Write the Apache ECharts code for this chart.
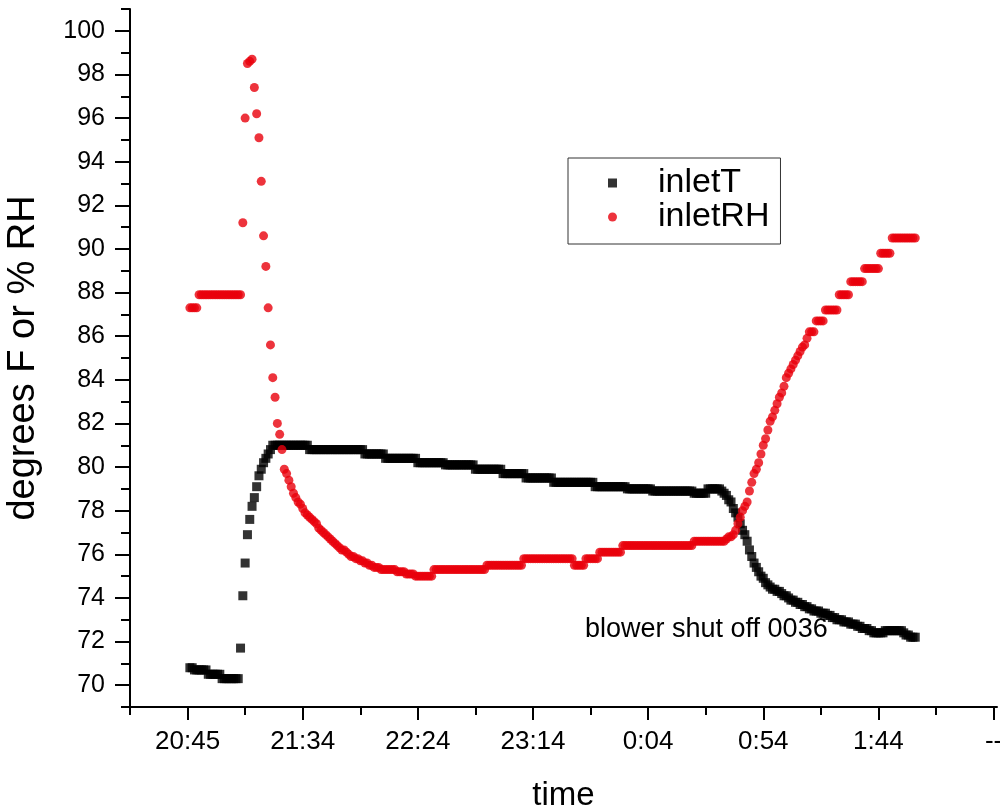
<!DOCTYPE html>
<html>
<head>
<meta charset="utf-8">
<title>inlet temperature and humidity</title>
<script src="https://cdn.jsdelivr.net/npm/echarts@6/dist/echarts.min.js"></script>
<style>
  html, body { margin: 0; padding: 0; background: #ffffff; }
  #chart { width: 1000px; height: 808px; }
</style>
</head>
<body>
<div id="chart"></div>
<script>
// Time axis: minutes after the 20:45 tick; logger writes one sample per minute.
const axisOrigin = '20:45';
const logStart = '20:46';
const logStepMin = 1;

const tickMinutes = [0, 50, 100, 150, 200, 250, 300, 350];
const tickLabels = ['20:45', '21:34', '22:24', '23:14', '0:04', '0:54', '1:44', '--'];
const minorTickMinutes = [-25, 25, 75, 125, 175, 225, 275, 325];

const yMajorTicks = [70, 72, 74, 76, 78, 80, 82, 84, 86, 88, 90, 92, 94, 96, 98, 100];
const yMinorTicks = [69, 71, 73, 75, 77, 79, 81, 83, 85, 87, 89, 91, 93, 95, 97, 99, 101];

const annotationText = 'blower shut off 0036';

// inlet temperature, degrees F
const inletT = [
  70.8, 70.8, 70.7, 70.7, 70.7, 70.7, 70.7, 70.7, 70.5, 70.5,
  70.5, 70.5, 70.5, 70.5, 70.3, 70.3, 70.3, 70.3, 70.3, 70.3,
  70.3, 70.3, 71.7, 74.1, 75.6, 76.9, 77.6, 78.2, 78.6, 79.1,
  79.6, 79.9, 80.2, 80.4, 80.6, 80.8, 81.0, 81.0, 81.0, 81.0,
  81.0, 81.0, 81.0, 81.0, 81.0, 81.0, 81.0, 81.0, 81.0, 81.0,
  81.0, 81.0, 80.8, 80.8, 80.8, 80.8, 80.8, 80.8, 80.8, 80.8,
  80.8, 80.8, 80.8, 80.8, 80.8, 80.8, 80.8, 80.8, 80.8, 80.8,
  80.8, 80.8, 80.8, 80.8, 80.8, 80.8, 80.6, 80.6, 80.6, 80.6,
  80.6, 80.6, 80.6, 80.6, 80.6, 80.4, 80.4, 80.4, 80.4, 80.4,
  80.4, 80.4, 80.4, 80.4, 80.4, 80.4, 80.4, 80.4, 80.4, 80.2,
  80.2, 80.2, 80.2, 80.2, 80.2, 80.2, 80.2, 80.2, 80.2, 80.2,
  80.2, 80.1, 80.1, 80.1, 80.1, 80.1, 80.1, 80.1, 80.1, 80.1,
  80.1, 80.1, 80.1, 80.1, 79.9, 79.9, 79.9, 79.9, 79.9, 79.9,
  79.9, 79.9, 79.9, 79.9, 79.9, 79.9, 79.7, 79.7, 79.7, 79.7,
  79.7, 79.7, 79.7, 79.7, 79.7, 79.7, 79.5, 79.5, 79.5, 79.5,
  79.5, 79.5, 79.5, 79.5, 79.5, 79.5, 79.5, 79.5, 79.3, 79.3,
  79.3, 79.3, 79.3, 79.3, 79.3, 79.3, 79.3, 79.3, 79.3, 79.3,
  79.3, 79.3, 79.3, 79.3, 79.3, 79.3, 79.1, 79.1, 79.1, 79.1,
  79.1, 79.1, 79.1, 79.1, 79.1, 79.1, 79.1, 79.1, 79.1, 79.1,
  79.0, 79.0, 79.0, 79.0, 79.0, 79.0, 79.0, 79.0, 79.0, 79.0,
  79.0, 78.9, 78.9, 78.9, 78.9, 78.9, 78.9, 78.9, 78.9, 78.9,
  78.9, 78.9, 78.9, 78.9, 78.9, 78.9, 78.9, 78.9, 78.9, 78.8,
  78.8, 78.8, 78.8, 78.8, 78.8, 79.0, 79.0, 79.0, 79.0, 79.0,
  79.0, 78.9, 78.8, 78.7, 78.5, 78.4, 78.1, 77.9, 77.7, 77.4,
  77.1, 76.9, 76.6, 76.2, 75.9, 75.6, 75.4, 75.2, 75.0, 74.9,
  74.7, 74.6, 74.5, 74.4, 74.4, 74.3, 74.3, 74.2, 74.1, 74.1,
  74.0, 73.9, 73.9, 73.8, 73.8, 73.7, 73.7, 73.6, 73.6, 73.5,
  73.5, 73.4, 73.4, 73.4, 73.3, 73.3, 73.3, 73.2, 73.2, 73.1,
  73.1, 73.0, 73.0, 73.0, 72.9, 72.9, 72.9, 72.8, 72.8, 72.8,
  72.7, 72.7, 72.6, 72.6, 72.6, 72.5, 72.5, 72.4, 72.4, 72.4,
  72.4, 72.4, 72.5, 72.5, 72.5, 72.5, 72.5, 72.5, 72.5, 72.5,
  72.4, 72.3, 72.3, 72.2, 72.2, 72.2
];

// inlet relative humidity, %
const inletRH = [
  87.3, 87.3, 87.3, 87.3, 87.9, 87.9, 87.9, 87.9, 87.9, 87.9,
  87.9, 87.9, 87.9, 87.9, 87.9, 87.9, 87.9, 87.9, 87.9, 87.9,
  87.9, 87.9, 87.9, 91.2, 96.0, 98.5, 98.6, 98.7, 97.4, 96.2,
  95.1, 93.1, 90.6, 89.2, 87.3, 85.6, 84.1, 83.2, 82.0, 81.5,
  80.8, 79.9, 79.7, 79.4, 79.1, 78.8, 78.6, 78.4, 78.3, 78.1,
  77.9, 77.8, 77.7, 77.6, 77.5, 77.4, 77.2, 77.1, 77.0, 76.9,
  76.8, 76.7, 76.6, 76.5, 76.4, 76.3, 76.2, 76.2, 76.1, 76.0,
  75.9, 75.9, 75.8, 75.8, 75.7, 75.7, 75.6, 75.6, 75.5, 75.5,
  75.4, 75.4, 75.4, 75.3, 75.3, 75.3, 75.3, 75.3, 75.3, 75.3,
  75.2, 75.2, 75.2, 75.2, 75.1, 75.1, 75.1, 75.1, 75.0, 75.0,
  75.0, 75.0, 75.0, 75.0, 75.0, 75.0, 75.3, 75.3, 75.3, 75.3,
  75.3, 75.3, 75.3, 75.3, 75.3, 75.3, 75.3, 75.3, 75.3, 75.3,
  75.3, 75.3, 75.3, 75.3, 75.3, 75.3, 75.3, 75.3, 75.3, 75.5,
  75.5, 75.5, 75.5, 75.5, 75.5, 75.5, 75.5, 75.5, 75.5, 75.5,
  75.5, 75.5, 75.5, 75.5, 75.5, 75.8, 75.8, 75.8, 75.8, 75.8,
  75.8, 75.8, 75.8, 75.8, 75.8, 75.8, 75.8, 75.8, 75.8, 75.8,
  75.8, 75.8, 75.8, 75.8, 75.8, 75.8, 75.8, 75.5, 75.5, 75.5,
  75.5, 75.5, 75.8, 75.8, 75.8, 75.8, 75.8, 75.8, 76.1, 76.1,
  76.1, 76.1, 76.1, 76.1, 76.1, 76.1, 76.1, 76.1, 76.4, 76.4,
  76.4, 76.4, 76.4, 76.4, 76.4, 76.4, 76.4, 76.4, 76.4, 76.4,
  76.4, 76.4, 76.4, 76.4, 76.4, 76.4, 76.4, 76.4, 76.4, 76.4,
  76.4, 76.4, 76.4, 76.4, 76.4, 76.4, 76.4, 76.4, 76.4, 76.6,
  76.6, 76.6, 76.6, 76.6, 76.6, 76.6, 76.6, 76.6, 76.6, 76.6,
  76.6, 76.6, 76.6, 76.7, 76.8, 76.8, 76.9, 77.1, 77.4, 77.7,
  78.0, 78.2, 78.4, 78.9, 79.3, 79.7, 79.9, 80.2, 80.6, 81.0,
  81.3, 81.7, 82.1, 82.3, 82.6, 82.9, 83.2, 83.4, 83.7, 84.1,
  84.3, 84.5, 84.7, 84.9, 85.1, 85.3, 85.5, 85.6, 85.9, 86.2,
  86.2, 86.2, 86.7, 86.7, 86.7, 86.7, 87.2, 87.2, 87.2, 87.2,
  87.2, 87.2, 87.9, 87.9, 87.9, 87.9, 87.9, 88.5, 88.5, 88.5,
  88.5, 88.5, 88.5, 89.1, 89.1, 89.1, 89.1, 89.1, 89.1, 89.1,
  89.8, 89.8, 89.8, 89.8, 89.8, 90.5, 90.5, 90.5, 90.5, 90.5,
  90.5, 90.5, 90.5, 90.5, 90.5, 90.5
];

// clock string -> minutes after the axis origin (readings run past midnight)
function clockToAxis(clock) {
  const [h, m] = clock.split(':').map(Number);
  const [h0, m0] = axisOrigin.split(':').map(Number);
  let d = (h * 60 + m) - (h0 * 60 + m0);
  if (d < -12 * 60) d += 24 * 60;
  return d;
}

const startMin = clockToAxis(logStart);
const toPoints = (vals) => vals.map((v, i) => [startMin + i * logStepMin, v]);

const FONT = '"Liberation Sans", Arial, Helvetica, sans-serif';
const INK = '#000000';
const RED = '#e8000b';

const chart = echarts.init(document.getElementById('chart'), null, { renderer: 'canvas' });

const labelFor = (v) => {
  const k = tickMinutes.indexOf(Math.round(v));
  return k >= 0 ? tickLabels[k] : '';
};

const option = {
  backgroundColor: '#ffffff',
  animation: false,
  textStyle: { fontFamily: FONT },
  grid: { left: 130, right: 3, top: 9, bottom: 101, containLabel: false, outerBoundsMode: 'none' },
  legend: {
    orient: 'vertical',
    left: 568,
    top: 158,
    padding: [8, 11, 10, 40],
    itemGap: 0,
    itemWidth: 9,
    itemHeight: 9,
    borderColor: '#333333',
    borderWidth: 1,
    textStyle: { fontFamily: FONT, fontSize: 34, color: INK, lineHeight: 33, padding: [0, 0, 0, 36] },
    data: [
      { name: 'inletT', icon: 'rect' },
      { name: 'inletRH', icon: 'circle' }
    ]
  },
  xAxis: [
    {
      type: 'value',
      min: -25,
      max: 351.5,
      position: 'bottom',
      name: 'time',
      nameLocation: 'middle',
      nameGap: 72,
      nameTextStyle: { fontFamily: FONT, fontSize: 33, color: INK },
      axisLine: { show: true, onZero: false, lineStyle: { color: INK, width: 2 } },
      axisTick: { show: true, inside: false, length: 13, customValues: tickMinutes, lineStyle: { color: INK, width: 2 } },
      axisLabel: { show: true, customValues: tickMinutes, margin: 22, fontSize: 26, color: INK, fontFamily: FONT, formatter: labelFor },
      splitLine: { show: false }
    },
    {
      type: 'value',
      min: -25,
      max: 351.5,
      position: 'bottom',
      offset: 0,
      axisLine: { show: false, onZero: false },
      axisTick: { show: true, inside: false, length: 8, customValues: minorTickMinutes, lineStyle: { color: INK, width: 2 } },
      axisLabel: { show: false },
      splitLine: { show: false }
    }
  ],
  yAxis: [
    {
      type: 'value',
      min: 69,
      max: 101,
      position: 'left',
      name: 'degrees F or % RH',
      nameLocation: 'middle',
      nameRotate: 90,
      nameGap: 87,
      nameTextStyle: { fontFamily: FONT, fontSize: 38, color: INK },
      axisLine: { show: true, onZero: false, lineStyle: { color: INK, width: 2 } },
      axisTick: { show: true, inside: false, length: 15, customValues: yMajorTicks, lineStyle: { color: INK, width: 2 } },
      axisLabel: { show: true, customValues: yMajorTicks, margin: 25, fontSize: 25, color: INK, fontFamily: FONT },
      splitLine: { show: false }
    },
    {
      type: 'value',
      min: 69,
      max: 101,
      position: 'left',
      offset: 0,
      axisLine: { show: false, onZero: false },
      axisTick: { show: true, inside: false, length: 9, customValues: yMinorTicks, lineStyle: { color: INK, width: 2 } },
      axisLabel: { show: false },
      splitLine: { show: false }
    }
  ],
  graphic: [
    {
      type: 'text',
      left: 585,
      top: 616,
      style: { text: annotationText, fontFamily: FONT, fontSize: 27, fill: INK }
    }
  ],
  series: [
    {
      name: 'inletT',
      type: 'scatter',
      xAxisIndex: 0,
      yAxisIndex: 0,
      symbol: 'rect',
      symbolSize: 9,
      itemStyle: { color: INK },
      data: toPoints(inletT)
    },
    {
      name: 'inletRH',
      type: 'scatter',
      xAxisIndex: 0,
      yAxisIndex: 0,
      symbol: 'circle',
      symbolSize: 9,
      itemStyle: { color: RED },
      data: toPoints(inletRH)
    }
  ]
};

chart.setOption(option);
</script>
</body>
</html>
